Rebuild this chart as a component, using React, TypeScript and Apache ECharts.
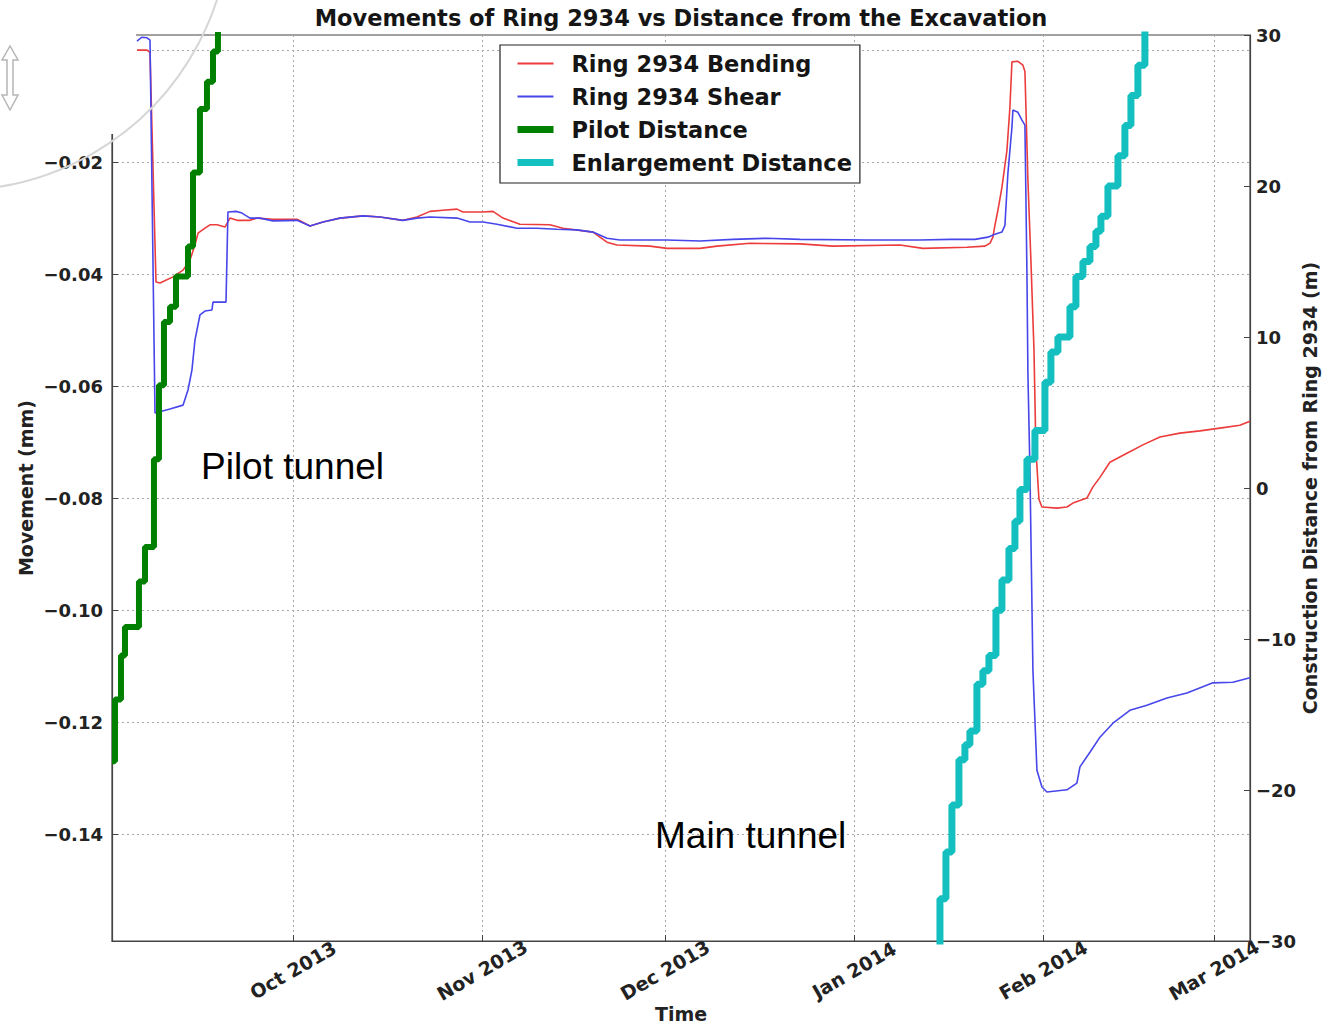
import React, { useEffect, useRef } from "react";
import * as echarts from "echarts";

// Time is stored as days since 1 Sep 2013 00:00 (local time).
const AXIS_START_DAY = 0.33;
const AXIS_END_DAY = 186.9;

// Month ticks on the time axis
const monthTicks = ["2013-10-01", "2013-11-01", "2013-12-01", "2014-01-01", "2014-02-01", "2014-03-01"];
const monthNames = ["Jan", "Feb", "Mar", "Apr", "May", "Jun", "Jul", "Aug", "Sep", "Oct", "Nov", "Dec"];

// Left axis (movement, mm)
const movementMin = -0.1591;
const movementMax = 0.0027;
const movementTicks = [0, -0.02, -0.04, -0.06, -0.08, -0.1, -0.12, -0.14];

// Right axis (distance, m)
const distanceMin = -30;
const distanceMax = 30;

// Ring 2934 Bending: [day, movement mm]
const bending: [number, number][] = [
  [4.43, 0.0], [6.07, 0.0], [6.56, -0.0004], [7.54, -0.0414], [8.2, -0.0416], [10.33, -0.0405],
  [11.97, -0.0393], [13.11, -0.0375], [13.93, -0.0348], [14.43, -0.0327], [15.57, -0.0318],
  [16.39, -0.0312], [17.54, -0.0312], [18.85, -0.0316], [19.67, -0.03], [20.82, -0.0304],
  [22.95, -0.0304], [24.1, -0.03], [26.72, -0.0302], [30.66, -0.0302], [32.79, -0.0314],
  [34.92, -0.0307], [37.7, -0.03], [41.48, -0.0296], [44.26, -0.0298], [48.03, -0.0304],
  [50.33, -0.0298], [52.46, -0.0288], [54.59, -0.0286], [56.89, -0.0284], [57.87, -0.0289],
  [61.15, -0.0289], [62.79, -0.0288], [64.43, -0.03], [67.21, -0.0311], [72.13, -0.0312],
  [74.26, -0.0318], [79.18, -0.0325], [81.48, -0.0343], [83.11, -0.0348], [88.52, -0.035],
  [91.31, -0.0354], [96.72, -0.0354], [99.51, -0.035], [104.92, -0.0345], [113.11, -0.0346],
  [118.52, -0.035], [129.51, -0.0348], [133.28, -0.0354], [140.49, -0.0352], [143.44, -0.035],
  [144.26, -0.0345], [144.75, -0.0334], [145.08, -0.0313], [145.57, -0.0286], [146.23, -0.0245],
  [147.05, -0.0179], [147.54, -0.0102], [147.87, -0.0021], [148.85, -0.002], [149.67, -0.0027],
  [150.0, -0.0038], [150.49, -0.0232], [150.98, -0.0375], [151.48, -0.0534], [151.8, -0.0713],
  [152.3, -0.0802], [152.79, -0.0816], [155.25, -0.0818], [156.89, -0.0816], [157.87, -0.0809],
  [160.16, -0.08], [161.15, -0.078], [162.3, -0.0763], [163.93, -0.0736], [166.72, -0.072],
  [169.34, -0.0705], [172.13, -0.0691], [175.41, -0.0684], [178.69, -0.068], [181.97, -0.0675],
  [185.25, -0.067], [186.89, -0.0663],
];

// Ring 2934 Shear: [day, movement mm]
const shear: [number, number][] = [
  [4.43, 0.0016], [5.2, 0.0023], [6.07, 0.0022], [6.56, 0.0018], [7.38, -0.0648], [9.84, -0.0641],
  [11.97, -0.0634], [12.79, -0.0607], [13.44, -0.0571], [13.93, -0.0518], [14.75, -0.0473],
  [15.57, -0.0466], [16.72, -0.0464], [16.89, -0.045], [19.02, -0.045], [19.34, -0.0289],
  [20.66, -0.0288], [21.64, -0.0291], [22.95, -0.03], [24.59, -0.03], [26.72, -0.0305],
  [30.66, -0.0304], [32.79, -0.0314], [34.92, -0.0307], [37.7, -0.03], [41.48, -0.0296],
  [44.26, -0.0298], [48.03, -0.0304], [50.33, -0.03], [52.46, -0.0298], [56.89, -0.03],
  [59.02, -0.0307], [61.15, -0.0307], [63.44, -0.0311], [66.72, -0.0318], [70.0, -0.0318],
  [73.28, -0.032], [76.56, -0.0321], [79.18, -0.0325], [81.48, -0.0336], [83.61, -0.0339],
  [85.74, -0.0339], [91.31, -0.0339], [96.72, -0.0341], [102.13, -0.0338], [107.7, -0.0336],
  [113.11, -0.0338], [124.1, -0.0339], [132.79, -0.0339], [137.7, -0.0338], [141.8, -0.0338],
  [143.93, -0.0334], [145.08, -0.0329], [146.23, -0.0325], [146.72, -0.0313], [147.21, -0.022],
  [147.87, -0.0138], [148.03, -0.0107], [148.85, -0.0111], [149.51, -0.0125], [150.0, -0.0134],
  [150.33, -0.0398], [150.49, -0.0577], [150.82, -0.075], [151.31, -0.1107], [151.97, -0.1286],
  [152.79, -0.1316], [153.61, -0.1325], [156.89, -0.1321], [158.52, -0.1309], [159.02, -0.128],
  [160.66, -0.1254], [162.3, -0.1227], [164.43, -0.1202], [167.21, -0.1179], [170.0, -0.117],
  [173.28, -0.1157], [176.56, -0.1148], [180.82, -0.113], [184.1, -0.1129], [186.89, -0.1121],
];

// Pilot Distance: [day, distance m] (stepped)
const pilotDistance: [number, number][] = [
  [0.33, -18.1], [0.82, -14.0], [1.8, -11.1], [2.46, -9.2], [4.75, -6.2], [5.74, -3.9],
  [7.21, 1.9], [8.03, 6.8], [8.85, 11.0], [9.84, 12.0], [10.82, 14.0], [12.79, 16.0],
  [13.61, 20.9], [14.75, 25.1], [15.9, 26.9], [16.89, 28.9], [17.7, 32],
];

// Enlargement Distance: [day, distance m] (stepped)
const enlargementDistance: [number, number][] = [
  [135.25, -33], [136.07, -27.2], [137.05, -24.1], [138.03, -21.0], [139.18, -18.0], [140.16, -17.0],
  [140.98, -16.1], [142.13, -13.0], [143.11, -12.1], [144.1, -11.1], [145.25, -8.1], [146.23, -6.1],
  [147.38, -4.0], [148.36, -2.2], [149.18, -0.1], [150.33, 1.9], [151.64, 3.8], [153.28, 7.0],
  [154.26, 9.0], [155.41, 10.0], [157.38, 12.0], [158.36, 14.0], [159.51, 15.0], [160.66, 16.0],
  [161.64, 17.0], [162.46, 18.0], [163.61, 20.0], [165.25, 22.0], [166.39, 24.0], [167.38, 26.0],
  [168.52, 28.0], [169.67, 32],
];

const T0 = new Date(2013, 8, 1).getTime();
const DAY = 86400000;
const toTime = (d: number) => T0 + d * DAY;
const toSeries = (arr: [number, number][]) => arr.map(([d, v]) => [toTime(d), v]);
const parseDate = (s: string) => {
  const [y, m, d] = s.split("-").map(Number);
  return new Date(y, m - 1, d).getTime();
};

const FONT = "DejaVu Sans";
const minus = (s: string) => s.replace("-", "\u2212");

const COLORS = {
  bending: "#ec3c3c",
  shear: "#4646ea",
  pilot: "#008000",
  enlargement: "#14bfbf",
};

export default function App() {
  const ref = useRef<HTMLDivElement>(null);

  useEffect(() => {
    if (!ref.current) return;
    const chart = echarts.init(ref.current, undefined, { renderer: "svg" });
    const tickVals = monthTicks.map(parseDate);
    const gridLine = { show: true, lineStyle: { color: "#a8a8a8", type: [2, 3] as any, width: 1 } };
    const nameStyle = { fontFamily: FONT, fontWeight: "bold", fontSize: 19, color: "#222" };

    chart.setOption({
      animation: false,
      backgroundColor: "#ffffff",
      grid: {
        left: 112, right: 88, top: 35, bottom: 86,
        outerBoundsMode: "none",
        containLabel: false,
        show: true, borderColor: "#444", borderWidth: 1.2, backgroundColor: "transparent",
      },
      legend: {
        orient: "vertical",
        left: 500,
        top: 45,
        padding: [7, 8, 9, 14],
        itemGap: 10,
        itemWidth: 36,
        itemHeight: 14,
        backgroundColor: "#ffffff",
        borderColor: "#222",
        borderWidth: 1.2,
        borderRadius: 0,
        itemStyle: { opacity: 0 },
        textStyle: { fontFamily: FONT, fontWeight: "bold", fontSize: 22.5, color: "#151515", padding: [0, 0, 0, 13] },
        data: [
          { name: "Ring 2934 Bending", lineStyle: { color: COLORS.bending, width: 2 } },
          { name: "Ring 2934 Shear", lineStyle: { color: COLORS.shear, width: 2 } },
          { name: "Pilot Distance", lineStyle: { color: COLORS.pilot, width: 7 } },
          { name: "Enlargement Distance", lineStyle: { color: COLORS.enlargement, width: 7 } },
        ],
      },
      xAxis: {
        type: "value",
        min: toTime(AXIS_START_DAY),
        max: toTime(AXIS_END_DAY),
        name: "Time",
        nameLocation: "middle",
        nameGap: 63,
        nameMoveOverlap: false,
        nameTextStyle: nameStyle,
        axisLine: { show: true, onZero: false, lineStyle: { color: "#444", width: 1.2 } },
        axisTick: { show: true, inside: true, length: 6, lineStyle: { color: "#444" }, customValues: tickVals },
        axisLabel: {
          customValues: tickVals,
          rotate: 30,
          align: "center",
          verticalAlign: "middle",
          margin: 29,
          fontFamily: FONT,
          fontWeight: "bold",
          fontSize: 19,
          color: "#222",
          formatter: (v: number) => {
            const d = new Date(v);
            return `${monthNames[d.getMonth()]} ${d.getFullYear()}`;
          },
        },
        splitLine: gridLine,
      },
      yAxis: [
        {
          type: "value",
          min: movementMin,
          max: movementMax,
          name: "Movement (mm)",
          nameLocation: "middle",
          nameGap: 77,
          nameMoveOverlap: false,
          nameRotate: 90,
          nameTextStyle: nameStyle,
          axisLine: { show: true, onZero: false, lineStyle: { color: "#444", width: 1.2 } },
          axisTick: { show: true, inside: true, length: 6, lineStyle: { color: "#444" }, customValues: movementTicks },
          axisLabel: {
            customValues: movementTicks,
            margin: 9,
            fontFamily: FONT,
            fontWeight: "bold",
            fontSize: 18,
            color: "#222",
            formatter: (v: number) => minus(v.toFixed(2)),
          },
          splitLine: gridLine,
        },
        {
          type: "value",
          min: distanceMin,
          max: distanceMax,
          interval: 10,
          position: "right",
          name: "Construction Distance from Ring 2934 (m)",
          nameLocation: "middle",
          nameGap: 50,
          nameMoveOverlap: false,
          nameRotate: 90,
          nameTextStyle: nameStyle,
          axisLine: { show: true, onZero: false, lineStyle: { color: "#444", width: 1.2 } },
          axisTick: { show: true, inside: true, length: 6, lineStyle: { color: "#444" } },
          axisLabel: {
            margin: 6,
            fontFamily: FONT,
            fontWeight: "bold",
            fontSize: 18,
            color: "#222",
            formatter: (v: number) => minus(String(v)),
          },
          splitLine: { show: false },
        },
      ],
      series: [
        {
          name: "Ring 2934 Bending",
          type: "line",
          yAxisIndex: 0,
          data: toSeries(bending),
          showSymbol: false,
          symbol: "none",
          color: COLORS.bending,
          lineStyle: { color: COLORS.bending, width: 1.6 },
          z: 2,
        },
        {
          name: "Ring 2934 Shear",
          type: "line",
          yAxisIndex: 0,
          data: toSeries(shear),
          showSymbol: false,
          symbol: "none",
          color: COLORS.shear,
          lineStyle: { color: COLORS.shear, width: 1.6 },
          z: 3,
        },
        {
          name: "Pilot Distance",
          type: "line",
          yAxisIndex: 1,
          step: "end",
          data: toSeries(pilotDistance),
          showSymbol: false,
          symbol: "none",
          color: COLORS.pilot,
          lineStyle: { color: COLORS.pilot, width: 6 },
          z: 4,
        },
        {
          name: "Enlargement Distance",
          type: "line",
          yAxisIndex: 1,
          step: "end",
          data: toSeries(enlargementDistance),
          showSymbol: false,
          symbol: "none",
          color: COLORS.enlargement,
          lineStyle: { color: COLORS.enlargement, width: 7 },
          z: 5,
        },
      ],
      graphic: [
        {
          type: "text",
          x: 681,
          y: 18,
          z: 50,
          style: {
            text: "Movements of Ring 2934 vs Distance from the Excavation",
            font: `bold 22.5px "${FONT}"`,
            fill: "#151515",
            textAlign: "center",
            textVerticalAlign: "middle",
          },
        },
        {
          type: "text",
          x: 201,
          y: 466,
          z: 50,
          style: { text: "Pilot tunnel", font: '37px "Liberation Sans", Arial, sans-serif', fill: "#000", textAlign: "left", textVerticalAlign: "middle" },
        },
        {
          type: "text",
          x: 655,
          y: 835,
          z: 50,
          style: { text: "Main tunnel", font: '37px "Liberation Sans", Arial, sans-serif', fill: "#000", textAlign: "left", textVerticalAlign: "middle" },
        },
        { type: "rect", z: 100, shape: { x: 0, y: 0, width: 136, height: 134 }, style: { fill: "#ffffff" } },
        { type: "circle", z: 101, shape: { cx: -44, cy: -84, r: 274 }, style: { fill: "none", stroke: "#d6d6d6", lineWidth: 2 } },
        {
          type: "polygon",
          z: 101,
          shape: {
            points: [[10, 46], [2, 60], [7, 60], [7, 95], [2, 95], [10, 110], [18, 95], [13, 95], [13, 60], [18, 60]],
          },
          style: { fill: "#ffffff", stroke: "#b5b5b5", lineWidth: 1.5 },
        },
      ],
    });

    return () => chart.dispose();
  }, []);

  return <div ref={ref} style={{ position: "absolute", left: 0, top: 0, width: 1338, height: 1027, background: "#fff" }} />;
}
